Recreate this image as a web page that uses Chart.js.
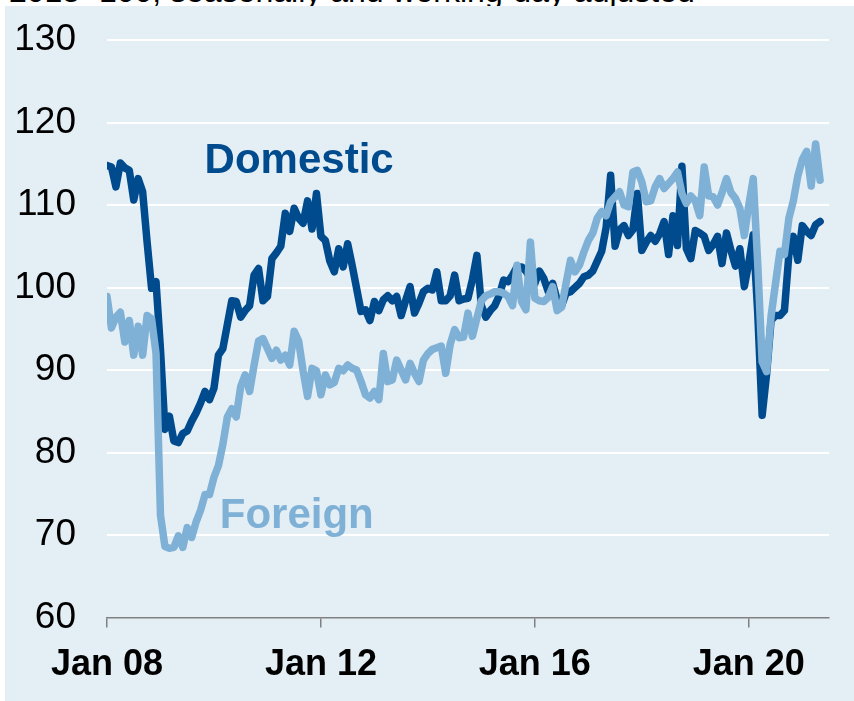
<!DOCTYPE html>
<html lang="en">
<head>
  <meta charset="UTF-8">
  <title>Orders received: domestic and foreign</title>
  <script src="https://cdn.jsdelivr.net/npm/chart.js"></script>
  <style>
    html, body { margin: 0; padding: 0; background: #fff; }
    body { width: 854px; height: 701px; position: relative; overflow: hidden; }
    #sub { position: absolute; left: 9px; top: -25px; font: 32px/32px "Liberation Sans", Arial, sans-serif; color: #000; white-space: nowrap; }
    #grafico { position: absolute; left: 0; top: 0; }
  </style>
</head>
<body>
  <div id="sub">2015=100, seasonally and working-day adjusted</div>
  <canvas id="grafico" width="854" height="701"></canvas>

  <script>
    // monthly index values, Jan 2008 = month 0
    const domestic = [
      114.8, 114.6, 112.2, 115.1, 114.5, 114.2, 110.6, 113.2, 111.6, 105.5, 99.9, 100.7,
      92.5, 82.8, 84.4, 81.4, 81.2, 82.3, 82.6, 83.8, 84.8, 86.0, 87.4, 86.4,
      87.8, 91.8, 92.6, 95.5, 98.4, 98.3, 96.4, 97.2, 97.8, 101.5, 102.3, 98.4,
      98.9, 103.5, 104.2, 105.0, 109.0, 106.8, 109.6, 108.4, 107.8, 110.5, 107.1, 111.4,
      106.2, 105.7, 103.2, 101.9, 104.7, 102.5, 105.3, 102.7, 99.9, 97.1, 97.3, 96.0,
      98.3, 97.2, 98.5, 99.0, 98.4, 98.9, 96.6, 98.4, 100.1, 96.9, 98.1, 99.5,
      99.9, 99.7, 101.9, 98.4, 98.4, 99.0, 101.5, 98.4, 98.6, 98.7, 101.0, 103.9,
      97.8, 96.4, 97.2, 97.8, 99.0, 100.9, 100.7, 101.5, 102.5, 102.5, 102.0, 101.0,
      100.5, 102.0, 101.1, 99.5, 100.5, 98.5, 97.8, 99.3, 99.5, 100.0, 100.5, 101.3,
      101.5, 102.0, 103.2, 104.4, 107.3, 113.6, 105.0, 107.0, 107.5, 106.3, 107.0, 111.4,
      104.5, 105.5, 106.3, 105.6, 106.5, 108.0, 104.0, 108.7, 105.1, 114.7, 104.7, 103.5,
      106.9, 106.6, 106.2, 104.5, 105.2, 106.2, 102.9, 106.6, 104.5, 102.6, 104.7, 100.1,
      103.0, 106.4, 97.0, 84.5, 89.5, 96.0, 96.6, 96.6, 97.2, 104.0, 106.2, 103.3,
      107.5, 106.8, 106.3, 107.6, 108.0
    ];
    const foreign = [
      98.9, 95.1, 96.4, 97.0, 93.4, 96.0, 91.8, 95.3, 91.8, 96.6, 96.2, 92.0,
      72.4, 68.6, 68.4, 68.5, 69.9, 68.5, 70.9, 69.7, 71.6, 73.0, 74.9, 74.9,
      77.0, 78.4, 81.0, 84.3, 85.3, 84.3, 88.0, 89.4, 87.4, 90.6, 93.5, 93.8,
      92.6, 91.4, 92.4, 91.2, 91.8, 90.6, 94.7, 93.5, 89.9, 86.8, 90.2, 89.9,
      87.0, 89.4, 88.2, 88.5, 90.2, 89.9, 90.6, 90.2, 90.0, 88.6, 87.0, 86.6,
      87.4, 86.4, 92.0, 88.6, 88.8, 91.2, 90.0, 88.8, 90.8, 89.6, 88.6, 91.2,
      92.0, 92.5, 92.7, 92.9, 89.6, 93.1, 94.9, 93.9, 94.0, 96.9, 94.1, 96.3,
      98.4, 99.0, 99.2, 99.5, 99.5, 99.3, 98.9, 97.8, 102.7, 98.3, 97.3, 105.5,
      98.7, 98.4, 98.3, 98.8, 100.1, 97.2, 97.6, 100.5, 103.3, 101.9, 102.7, 104.3,
      105.7, 106.6, 108.4, 109.2, 108.7, 110.4, 111.0, 111.6, 110.0, 109.8, 114.0, 114.2,
      112.8, 110.4, 110.5, 112.2, 113.2, 112.0, 112.6, 113.2, 114.0, 111.4, 110.2, 111.1,
      110.5, 108.7, 114.6, 111.1, 111.0, 110.0, 111.5, 113.2, 111.5, 110.8, 109.6, 106.3,
      110.0, 113.2, 103.0, 91.0, 89.8, 96.5, 100.5, 104.4, 104.0, 108.4, 110.5, 113.5,
      115.5, 116.5, 112.3, 117.4, 113.0
    ];
    const tickValues = [0, 48, 96, 144];
    const tickLabels = ['Jan 08', 'Jan 12', 'Jan 16', 'Jan 20'];
    const seriesNames = ['Domestic', 'Foreign'];

    const blu = '#004B8D';
    const azzurro = '#7FB0D5';
    const font = '"Liberation Sans", Arial, sans-serif';

    // background panel
    const sfondo = {
      id: 'sfondo',
      beforeDraw(chart) {
        const c = chart.ctx;
        c.save();
        c.fillStyle = '#E4EEF5';
        c.fillRect(5, 6, chart.width - 5, chart.height - 6);
        c.restore();
      }
    };

    // series names written next to the lines
    const etichette = {
      id: 'etichette',
      afterDatasetsDraw(chart) {
        const c = chart.ctx, sx = chart.scales.x, sy = chart.scales.y;
        const where = [[21.9, 113.9], [25.3, 70.85]];
        const colori = [blu, azzurro];
        c.save();
        c.font = 'bold 42px ' + font;
        c.textBaseline = 'alphabetic';
        c.textAlign = 'left';
        seriesNames.forEach((n, k) => {
          c.fillStyle = colori[k];
          c.fillText(n, sx.getPixelForValue(where[k][0]), sy.getPixelForValue(where[k][1]));
        });
        c.restore();
      }
    };

    const ctx = document.getElementById('grafico').getContext('2d');
    const chart = new Chart(ctx, {
      type: 'line',
      data: {
        datasets: [
          {
            label: seriesNames[0],
            data: domestic.map((v, i) => ({ x: i, y: v })),
            borderColor: blu,
            borderWidth: 7.5,
            order: 1
          },
          {
            label: seriesNames[1],
            data: foreign.map((v, i) => ({ x: i, y: v })),
            borderColor: azzurro,
            borderWidth: 7.5,
            order: 0
          }
        ]
      },
      options: {
        responsive: false,
        animation: false,
        devicePixelRatio: 1,
        layout: { autoPadding: false, padding: { top: 40, right: 25, left: 0, bottom: 0 } },
        elements: {
          point: { radius: 0 },
          line: { tension: 0, fill: false, borderJoinStyle: 'round', borderCapStyle: 'round' }
        },
        plugins: {
          legend: { display: false },
          tooltip: { enabled: false }
        },
        scales: {
          x: {
            type: 'linear',
            min: 0,
            max: 162,
            afterBuildTicks: s => { s.ticks = tickValues.map(v => ({ value: v })); },
            afterFit: s => { s.height = 83.5; s.paddingLeft = 0; s.paddingRight = 0; },
            ticks: {
              autoSkip: false,
              maxRotation: 0,
              padding: 16,
              color: '#000',
              font: { family: font, size: 36, weight: 'bold' },
              callback: v => tickLabels[tickValues.indexOf(v)]
            },
            grid: {
              drawOnChartArea: false,
              drawTicks: true,
              tickLength: 10,
              color: '#808080',
              lineWidth: 1.5
            },
            border: { display: true, color: '#808080', width: 1.5 }
          },
          y: {
            min: 60,
            max: 130,
            afterFit: s => { s.width = 107; s.paddingTop = 0; s.paddingBottom = 0; },
            ticks: {
              stepSize: 10,
              padding: 31,
              color: '#000',
              font: { family: font, size: 37 }
            },
            grid: {
              color: c => (c.tick && c.tick.value === 60) ? 'rgba(0,0,0,0)' : '#ffffff',
              lineWidth: 2,
              drawTicks: false,
              tickLength: 0
            },
            border: { display: false }
          }
        }
      },
      plugins: [sfondo, etichette]
    });
  </script>
</body>
</html>
